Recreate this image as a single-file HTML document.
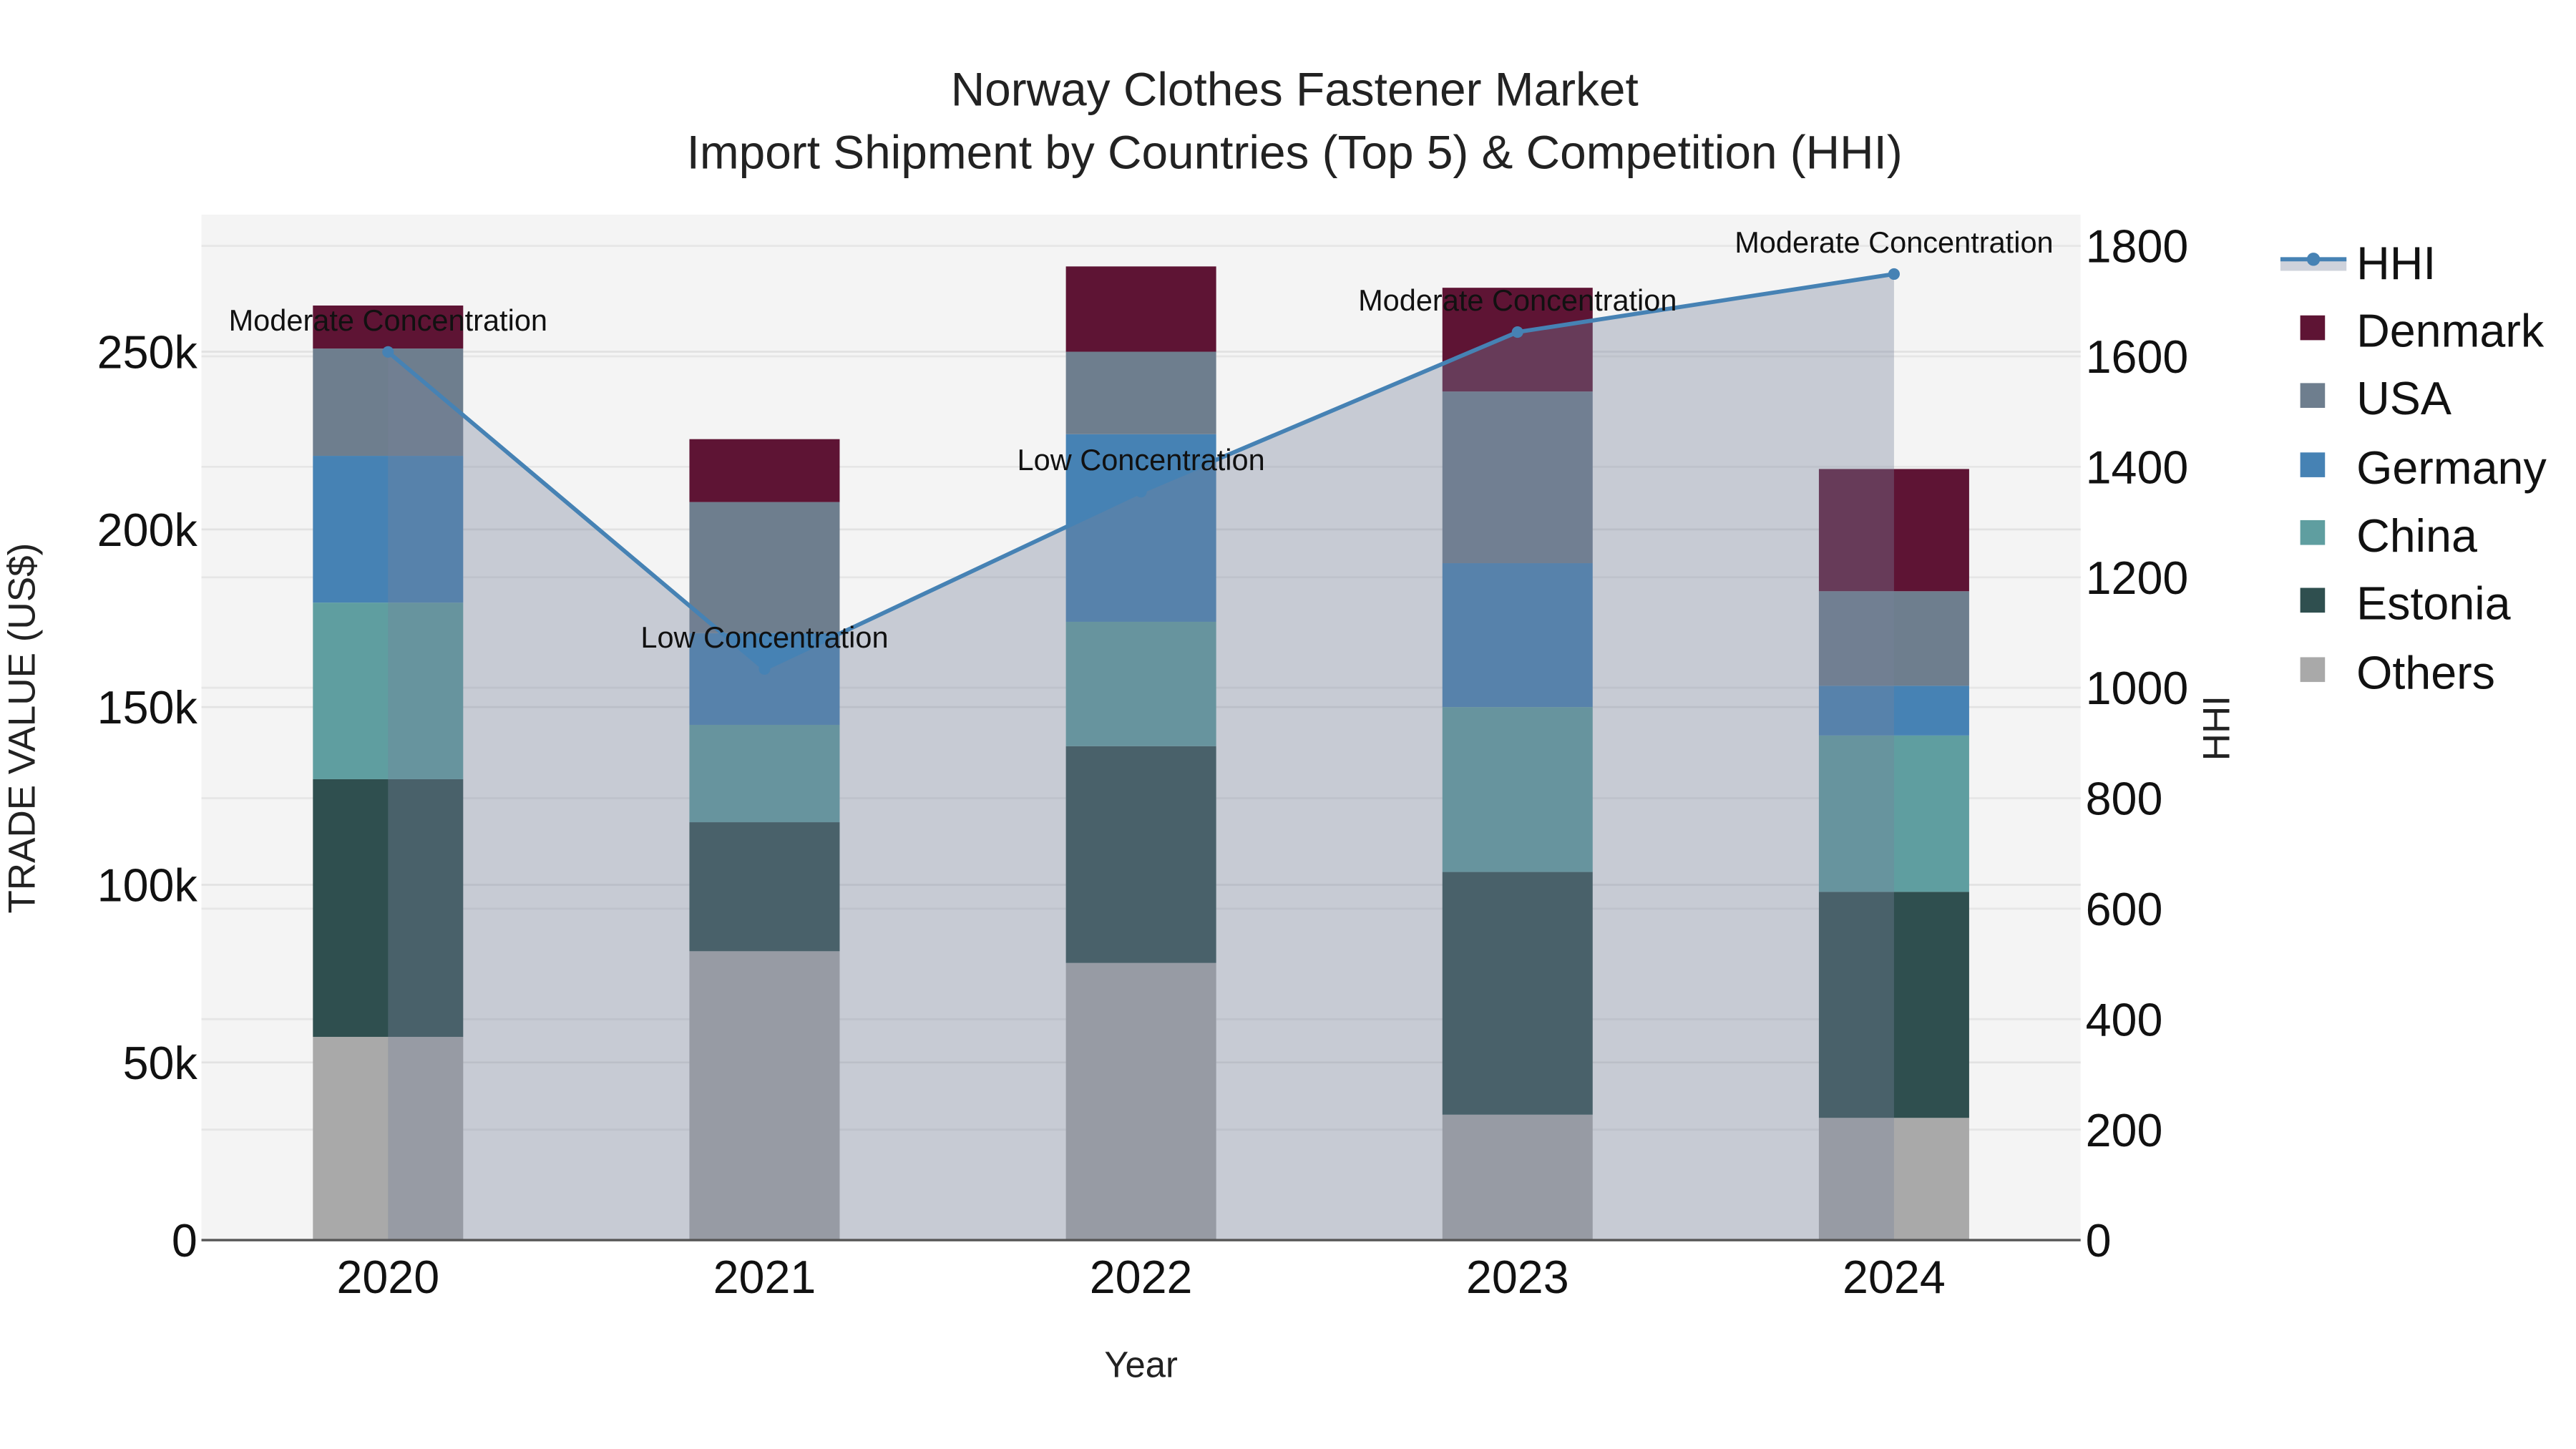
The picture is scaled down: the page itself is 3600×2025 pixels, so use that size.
<!DOCTYPE html>
<html><head><meta charset="utf-8"><style>
html,body{margin:0;padding:0;background:#fff;}
svg{display:block;font-family:"Liberation Sans",Arial,sans-serif;}
</style></head><body>
<svg id="chart" width="3600" height="2025" viewBox="0 0 1560 877.5" xmlns="http://www.w3.org/2000/svg">
<rect x="0" y="0" width="1560" height="877.5" fill="#fff"/>
<text x="784" y="64" font-size="28.5" text-anchor="middle" fill="#222">Norway Clothes Fastener Market</text>
<text x="784" y="102" font-size="28.5" text-anchor="middle" fill="#222">Import Shipment by Countries (Top 5) &amp; Competition (HHI)</text>
<rect x="122" y="130" width="1138" height="621" fill="#f4f4f4"/>
<g id="grid"></g>
<g id="bars"></g>
<g id="hhi"></g>
<g id="axes"></g>
<text x="691" y="834" font-size="22" text-anchor="middle" fill="#222">Year</text>
<text transform="translate(21,441) rotate(-90)" font-size="23" text-anchor="middle" fill="#222">TRADE VALUE (US$)</text>
<text transform="translate(1350,441) rotate(-90)" font-size="23" text-anchor="middle" fill="#222">HHI</text>
<g>
  <g>
    <rect x="1381" y="157" width="40" height="7" fill="rgba(120,131,154,0.36)"/>
    <line x1="1381" y1="157" x2="1421" y2="157" stroke="#4682b4" stroke-width="2.5"/>
    <circle cx="1401" cy="157" r="4" fill="#4682b4"/>
    <text x="1427" y="169" font-size="28" fill="#111">HHI</text>
  </g>
  <g><rect x="1393" y="191" width="15" height="15" fill="#5e1434"/><text x="1427" y="210" font-size="28" fill="#111">Denmark</text></g>
  <g><rect x="1393" y="232" width="15" height="15" fill="#6e7e8e"/><text x="1427" y="251" font-size="28" fill="#111">USA</text></g>
  <g><rect x="1393" y="274" width="15" height="15" fill="#4682b4"/><text x="1427" y="293" font-size="28" fill="#111">Germany</text></g>
  <g><rect x="1393" y="315" width="15" height="15" fill="#5f9ea0"/><text x="1427" y="334" font-size="28" fill="#111">China</text></g>
  <g><rect x="1393" y="356" width="15" height="15" fill="#2f4f4f"/><text x="1427" y="375" font-size="28" fill="#111">Estonia</text></g>
  <g><rect x="1393" y="398" width="15" height="15" fill="#a9a9a9"/><text x="1427" y="417" font-size="28" fill="#111">Others</text></g>
</g>
</svg>
<script>
const years = ["2020","2021","2022","2023","2024"];
const others = [57200, 81300, 78000, 35300, 34400];
const estonia = [72500, 36300, 61000, 68300, 63600];
const china = [49700, 27400, 35000, 46400, 44000];
const germany = [41300, 25800, 52800, 40500, 14000];
const usa = [30200, 36900, 23200, 48300, 26600];
const denmark = [12100, 17700, 24000, 29200, 34400];
const hhi = [1608, 1034, 1355, 1644, 1749];
const hhiLabels = ["Moderate Concentration","Low Concentration","Low Concentration","Moderate Concentration","Moderate Concentration"];
const leftTicks = [0, 50000, 100000, 150000, 200000, 250000];
const leftTickLabels = ["0","50k","100k","150k","200k","250k"];
const rightTicks = [0, 200, 400, 600, 800, 1000, 1200, 1400, 1600, 1800];

const NS = "http://www.w3.org/2000/svg";
const X0 = 122, X1 = 1260, Y0 = 130, YB = 751;
function xPos(i){ return 235 + i*228; }
function yL(v){ return YB - v/50000*107.6; }
function yR(h){ return YB - h/200*66.9; }
function mk(tag, attrs, parent){ const e=document.createElementNS(NS,tag); for(const k in attrs) e.setAttribute(k,attrs[k]); parent.appendChild(e); return e; }

const grid = document.getElementById("grid");
leftTicks.forEach((t)=>{ if(t===0) return;
  const l = mk("line",{x1:X0,x2:X1,y1:yL(t),y2:yL(t),stroke:"#e2e2e2","stroke-width":1.2},grid);
  
  
});
rightTicks.forEach((t)=>{ if(t===0) return;
  const l = mk("line",{x1:X0,x2:X1,y1:yR(t),y2:yR(t),stroke:"#e6e6e6","stroke-width":1.2},grid);
  
  
});

const series = [
  ["others", others, "#a9a9a9"],
  ["estonia", estonia, "#2f4f4f"],
  ["china", china, "#5f9ea0"],
  ["germany", germany, "#4682b4"],
  ["usa", usa, "#6e7e8e"],
  ["denmark", denmark, "#5e1434"]
];
const bars = document.getElementById("bars");
years.forEach((y,i)=>{
  let base = 0;
  series.forEach(([name, vals, col])=>{
    const top = base + vals[i];
    const r = mk("rect",{x:xPos(i)-45.5,width:91,y:yL(top),height:yL(base)-yL(top),fill:col},bars);
    
    
    base = top;
  });
});

const g = document.getElementById("hhi");
let d = "M"+xPos(0)+","+YB;
hhi.forEach((h,i)=>{ d += " L"+xPos(i)+","+yR(h); });
d += " L"+xPos(hhi.length-1)+","+YB+" Z";
const area = mk("path",{d:d,fill:"rgba(120,131,154,0.36)"},g);


const pts = hhi.map((h,i)=>xPos(i)+","+yR(h)).join(" ");
const line = mk("polyline",{points:pts,fill:"none",stroke:"#4682b4","stroke-width":2.5},g);


hhi.forEach((h,i)=>{
  const c = mk("circle",{cx:xPos(i),cy:yR(h),r:3.5,fill:"#4682b4"},g);
  
  
  const t = mk("text",{x:xPos(i),y:yR(h)-13,"font-size":18,"text-anchor":"middle",fill:"#111"},g);
  t.textContent = hhiLabels[i];
  
  
});

const ax = document.getElementById("axes");
const base = mk("line",{x1:X0,x2:X1,y1:YB,y2:YB,stroke:"#555","stroke-width":1.5},ax);


leftTicks.forEach((t,i)=>{
  const tx = mk("text",{x:119.5,y:yL(t)+10,"font-size":28,"text-anchor":"end",fill:"#111"},ax);
  tx.textContent = leftTickLabels[i];
  
  
});
rightTicks.forEach((t)=>{
  const tx = mk("text",{x:1263,y:yR(t)+10,"font-size":28,"text-anchor":"start",fill:"#111"},ax);
  tx.textContent = String(t);
  
  
});
years.forEach((y,i)=>{
  const tx = mk("text",{x:xPos(i),y:783,"font-size":28,"text-anchor":"middle",fill:"#111"},ax);
  tx.textContent = y;
  
  
});
</script>
</body></html>
